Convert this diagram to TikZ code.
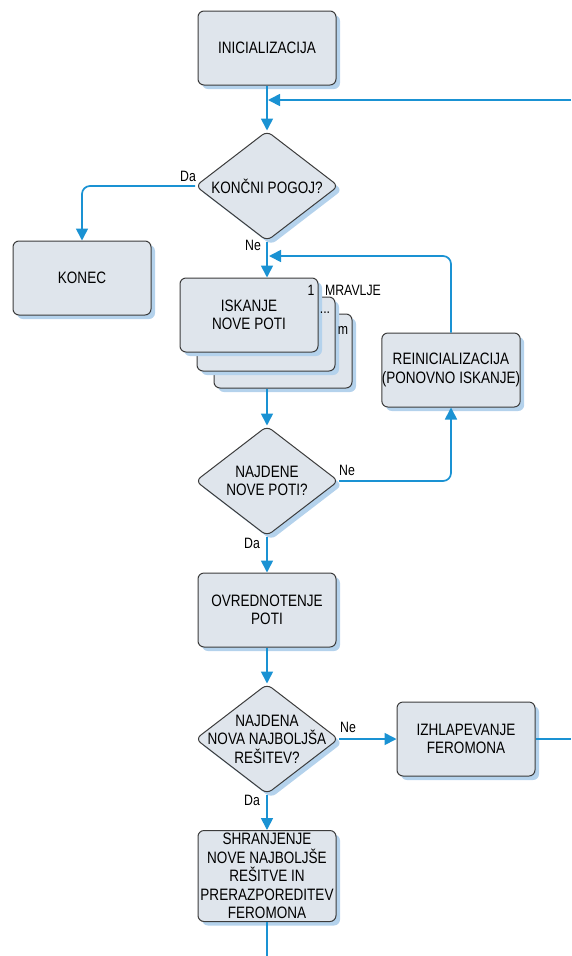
\documentclass[tikz,border=0pt]{standalone}
\usepackage{fontspec}
\usepackage{xcolor}
\usetikzlibrary{shapes.geometric,shadows,arrows.meta}
\newfontfamily\flowfont[FakeStretch=0.82]{Liberation Sans}
\definecolor{boxfill}{HTML}{DFE5EC}
\definecolor{boxline}{HTML}{3C3C3C}
\definecolor{shadowblue}{HTML}{B4D2EC}
\definecolor{flowblue}{HTML}{1A92D3}

\begin{document}
\begin{tikzpicture} [x=1pt, y=1pt,
    box/.style = {draw=boxline,
    line width=1pt,
    rounded corners=6pt,
    fill=boxfill,
    minimum width=138pt,
    minimum height=74pt,
    align=center,
    inner sep=0pt,
    font=\flowfont\fontsize{16.5}{18.5}\selectfont,
    drop shadow={shadow xshift=4pt, shadow yshift=-4pt, fill=shadowblue, opacity=1}},
    choice/.style = {draw=boxline,
    line width=1pt,
    diamond,
    rounded corners=6pt,
    fill=boxfill,
    minimum width=143pt,
    minimum height=110pt,
    align=center,
    inner xsep=-22pt,
    inner ysep=-16pt,
    font=\flowfont\fontsize{16.5}{18.5}\selectfont,
    drop shadow={shadow xshift=4pt, shadow yshift=-4pt, fill=shadowblue, opacity=1}},
    flow/.style = {draw=flowblue, line width=1.7pt, -{Triangle[width=12pt,length=12pt]}},
    line/.style = {draw=flowblue, line width=1.7pt},
    tag/.style = {font=\flowfont\fontsize{15}{17}\selectfont, inner sep=0pt}]

\useasboundingbox (0,0) rectangle (571,-956);

\node (init) at (267,-48) [box] {INICIALIZACIJA};
\node (pogoj) at (267,-186) [choice] {KONČNI POGOJ?};
\node (konec) at (82,-278) [box] {KONEC};

\node (iskanje3) at (283,-351) [box] {};
\node (iskanje2) at (266,-334) [box] {};
\node (iskanje) at (249,-315) [box] {ISKANJE\\NOVE POTI};
\node (prva) at (311,-290) [tag] {1};
\node (mravlje) at (353,-290) [tag] {MRAVLJE};
\node (pike) at (325,-313) [tag] {...};
\node (zadnja) at (343,-330) [tag] {m};

\node (reinit) at (451,-370) [box] {REINICIALIZACIJA\\(PONOVNO ISKANJE)};
\node (najdene) at (267,-481) [choice] {NAJDENE\\NOVE POTI?};
\node (ovred) at (267,-610) [box] {OVREDNOTENJE\\POTI};
\node (najdena) at (267,-739) [choice] {NAJDENA\\NOVA NAJBOLJŠA\\REŠITEV?};
\node (izhlap) at (466,-739) [box] {IZHLAPEVANJE\\FEROMONA};
\node (shranj) at (267,-876) [box, minimum height=91pt] {SHRANJENJE\\NOVE NAJBOLJŠE\\REŠITVE IN\\PRERAZPOREDITEV\\FEROMONA};

\coordinate (vrnitev) at (571,-100);
\coordinate (spoj) at (268,-100);
\coordinate (spoj2) at (269,-256);
\coordinate (izhod) at (571,-739);
\coordinate (dno) at (267,-956);

\draw [flow] (init) -- (pogoj);
\draw [flow] (vrnitev) -- (spoj);
\draw [flow, rounded corners=8pt] (pogoj.west) -| (konec.north);
\draw [flow] (pogoj.south) -- (pogoj.south |- iskanje.north);
\draw [flow, rounded corners=8pt] (reinit.north) |- (spoj2);
\draw [flow] (najdene.north |- iskanje3.south) -- (najdene.north);
\draw [flow, rounded corners=8pt] (najdene.east) -| (reinit.south);
\draw [flow] (najdene.south) -- (ovred.north);
\draw [flow] (ovred.south) -- (najdena.north);
\draw [flow] (najdena.east) -- (izhlap.west);
\draw [line] (izhlap.east) -- (izhod);
\draw [flow] (najdena.south) -- (shranj.north);
\draw [line] (shranj.south) -- (dno);

\node (da1) at (188,-176) [tag] {Da};
\node (ne1) at (253,-245) [tag] {Ne};
\node (ne2) at (347,-470) [tag] {Ne};
\node (da2) at (252,-543) [tag] {Da};
\node (ne3) at (348,-727) [tag] {Ne};
\node (da3) at (252,-800) [tag] {Da};

\end{tikzpicture}
\end{document}
